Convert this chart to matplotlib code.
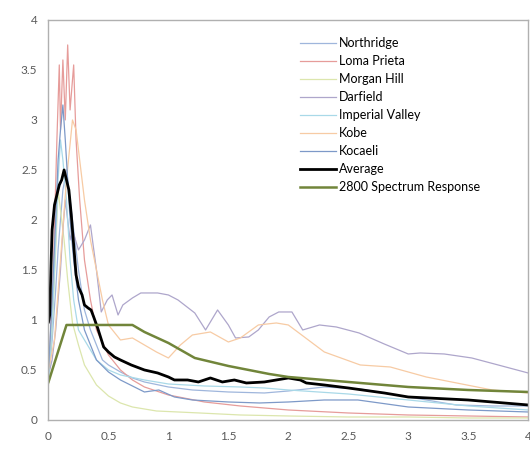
"""Response spectra of seven records with their average and the 2800 design spectrum."""

import matplotlib

matplotlib.use("Agg")
import matplotlib.pyplot as plt
from matplotlib.ticker import FuncFormatter, MultipleLocator


OUTPUT_PATH = "out.png"

northridge_t = [0, 0.03, 0.06, 0.08, 0.1, 0.12, 0.15, 0.18, 0.21, 0.25, 0.3, 0.35, 0.4,
                0.45, 0.5, 0.6, 0.7, 0.8, 1.0, 1.2, 1.5, 1.8, 2.0, 2.3, 2.6, 3.0, 3.4, 3.7, 4.0]
northridge_sa = [0.4, 0.8, 1.3, 1.7, 2.0, 2.3, 2.5, 2.2, 1.9, 1.5, 1.1, 0.9, 0.75,
                 0.6, 0.55, 0.48, 0.42, 0.38, 0.33, 0.3, 0.28, 0.27, 0.29, 0.33, 0.31, 0.23, 0.15, 0.14, 0.14]

loma_prieta_t = [0, 0.04, 0.07, 0.09, 0.1, 0.12, 0.14, 0.16, 0.18, 0.21, 0.23, 0.26, 0.3,
                 0.35, 0.4, 0.5, 0.6, 0.7, 0.8, 1.0, 1.3, 1.6, 2.0, 2.5, 3.0, 3.5, 4.0]
loma_prieta_sa = [0.4, 1.5, 2.8, 3.55, 2.9, 3.6, 3.0, 3.75, 3.1, 3.55, 2.8, 2.2, 1.6,
                  1.2, 0.9, 0.65, 0.5, 0.4, 0.33, 0.25, 0.18, 0.14, 0.1, 0.07, 0.05, 0.04, 0.03]

morgan_hill_t = [0, 0.03, 0.06, 0.08, 0.1, 0.13, 0.16, 0.2, 0.25, 0.3, 0.4, 0.5, 0.6, 0.7,
                 0.9, 1.26, 1.6, 2.0, 2.5, 3.0, 3.5, 4.0]
morgan_hill_sa = [0.35, 0.9, 1.7, 2.3, 2.1, 1.8, 1.4, 0.97, 0.75, 0.55, 0.35, 0.24, 0.17, 0.13,
                  0.09, 0.07, 0.05, 0.04, 0.03, 0.03, 0.02, 0.02]

darfield_t = [0, 0.03, 0.06, 0.08, 0.1, 0.12, 0.14, 0.16, 0.18, 0.2, 0.25, 0.3, 0.35, 0.4,
              0.44, 0.49, 0.53, 0.58, 0.62, 0.7, 0.77, 0.91, 1.0, 1.08, 1.22, 1.31, 1.41,
              1.5, 1.56, 1.67, 1.75, 1.84, 1.92, 2.03, 2.12, 2.26, 2.4, 2.59, 2.8, 3.0,
              3.1, 3.3, 3.53, 3.75, 4.0]
darfield_sa = [0.45, 0.6, 0.9, 1.2, 1.5, 1.9, 2.2, 2.0, 1.8, 1.9, 1.7, 1.8, 1.95, 1.5,
               1.08, 1.2, 1.25, 1.05, 1.15, 1.22, 1.27, 1.27, 1.25, 1.2, 1.07, 0.9, 1.1,
               0.95, 0.82, 0.83, 0.9, 1.03, 1.08, 1.08, 0.9, 0.95, 0.93, 0.87, 0.76, 0.66,
               0.67, 0.66, 0.62, 0.55, 0.47]

imperial_valley_t = [0, 0.03, 0.06, 0.08, 0.1, 0.12, 0.15, 0.18, 0.21, 0.25, 0.3, 0.35, 0.4,
                     0.5, 0.6, 0.8, 1.0, 1.3, 1.6, 1.8, 2.0, 2.5, 3.0, 3.5, 4.0]
imperial_valley_sa = [0.4, 0.9, 1.8, 2.4, 2.8, 2.6, 2.2, 1.6, 1.2, 0.9, 0.8, 0.7, 0.6,
                      0.5, 0.45, 0.4, 0.36, 0.34, 0.33, 0.32, 0.3, 0.26, 0.2, 0.14, 0.1]

kobe_t = [0, 0.05, 0.1, 0.15, 0.2, 0.23, 0.27, 0.3, 0.35, 0.4, 0.45, 0.5, 0.6, 0.7, 0.8,
          0.9, 1.0, 1.1, 1.2, 1.35, 1.5, 1.6, 1.75, 1.9, 2.0, 2.1, 2.3, 2.6, 2.85, 3.15,
          3.7, 4.0]
kobe_sa = [0.5, 0.8, 1.6, 2.4, 3.0, 2.9, 2.5, 2.2, 1.8, 1.5, 1.2, 0.95, 0.8, 0.82, 0.75,
           0.68, 0.62, 0.75, 0.85, 0.88, 0.78, 0.82, 0.95, 0.97, 0.95, 0.86, 0.68, 0.55,
           0.53, 0.43, 0.3, 0.27]

kocaeli_t = [0, 0.03, 0.06, 0.08, 0.1, 0.12, 0.14, 0.16, 0.18, 0.21, 0.25, 0.3, 0.35, 0.4,
             0.5, 0.6, 0.7, 0.8, 0.92, 1.05, 1.2, 1.5, 1.76, 2.0, 2.3, 2.58, 3.0, 3.5, 4.0]
kocaeli_sa = [0.5, 1.2, 2.0, 2.6, 2.9, 3.15, 2.8, 2.4, 2.0, 1.6, 1.2, 0.9, 0.75, 0.6,
              0.48, 0.4, 0.34, 0.28, 0.3, 0.23, 0.2, 0.18, 0.17, 0.18, 0.2, 0.2, 0.13, 0.1, 0.08]

average_t = [0, 0.01, 0.02, 0.03, 0.05, 0.07, 0.09, 0.11, 0.13, 0.15, 0.17, 0.19, 0.21,
             0.23, 0.25, 0.28, 0.3, 0.33, 0.355, 0.38, 0.41, 0.46, 0.5, 0.55, 0.6, 0.69,
             0.8, 0.91, 1.0, 1.05, 1.16, 1.25, 1.35, 1.45, 1.55, 1.65, 1.8, 1.9, 2.0, 2.1,
             2.15, 2.3, 2.5, 2.8, 3.0, 3.5, 4.0]
average_sa = [0.98, 1.05, 1.5, 1.9, 2.15, 2.25, 2.35, 2.4, 2.5, 2.4, 2.3, 2.05, 1.75,
              1.45, 1.33, 1.25, 1.15, 1.12, 1.1, 1.02, 0.92, 0.73, 0.68, 0.63, 0.6, 0.55,
              0.5, 0.47, 0.43, 0.4, 0.4, 0.38, 0.42, 0.38, 0.4, 0.37, 0.38, 0.4, 0.42, 0.4,
              0.37, 0.35, 0.32, 0.27, 0.23, 0.2, 0.15]

spectrum_2800_t = [0, 0.15, 0.7, 0.8, 1.0, 1.22, 1.5, 1.84, 2.0, 2.5, 3.0, 3.5, 4.0]
spectrum_2800_sa = [0.38, 0.95, 0.95, 0.88, 0.77, 0.62, 0.54, 0.46, 0.43, 0.38, 0.33, 0.3, 0.28]

RECORDS = [
    ("Northridge", northridge_t, northridge_sa, "#9fb6dc"),
    ("Loma Prieta", loma_prieta_t, loma_prieta_sa, "#e69c9a"),
    ("Morgan Hill", morgan_hill_t, morgan_hill_sa, "#dce6ad"),
    ("Darfield", darfield_t, darfield_sa, "#aea6cb"),
    ("Imperial Valley", imperial_valley_t, imperial_valley_sa, "#a9d9e8"),
    ("Kobe", kobe_t, kobe_sa, "#f7cba4"),
    ("Kocaeli", kocaeli_t, kocaeli_sa, "#7d99c8"),
]


def _tick_label(value, _pos):
    return f"{value:g}"


def main() -> None:
    plt.rcParams["font.family"] = ["Lato", "DejaVu Sans"]

    fig = plt.figure(figsize=(5.3, 4.5), dpi=100)
    ax = fig.add_axes([0.0915, 0.0667, 0.905, 0.889])

    for name, periods, values, color in RECORDS:
        ax.plot(periods, values, color=color, linewidth=0.9, label=name)
    ax.plot(average_t, average_sa, color="black", linewidth=2.0, label="Average")
    ax.plot(spectrum_2800_t, spectrum_2800_sa, color="#71853a", linewidth=1.8,
            label="2800 Spectrum Response")

    ax.set_xlim(0, 4)
    ax.set_ylim(0, 4)
    ax.xaxis.set_major_locator(MultipleLocator(0.5))
    ax.yaxis.set_major_locator(MultipleLocator(0.5))
    ax.xaxis.set_major_formatter(FuncFormatter(_tick_label))
    ax.yaxis.set_major_formatter(FuncFormatter(_tick_label))
    ax.tick_params(length=0, labelsize=8.5, colors="#595959", pad=8)

    for spine in ax.spines.values():
        spine.set_color("#b0b0b0")
        spine.set_linewidth(1.0)

    ax.legend(loc="upper left", bbox_to_anchor=(0.557, 0.928),
              bbox_transform=fig.transFigure, frameon=False, fontsize=9,
              handlelength=2.9, handletextpad=0.2, labelspacing=0.48,
              borderaxespad=0)

    fig.savefig(OUTPUT_PATH, dpi=100)


if __name__ == "__main__":
    main()
